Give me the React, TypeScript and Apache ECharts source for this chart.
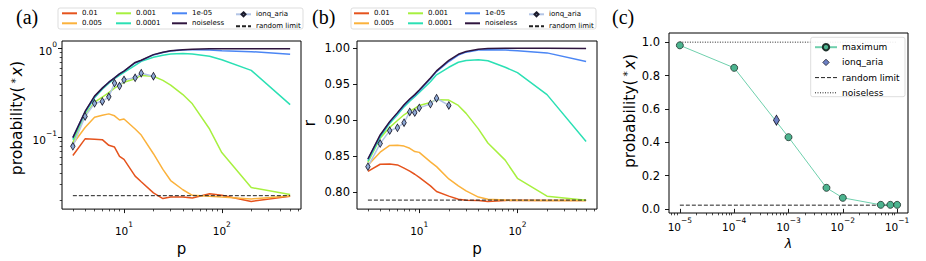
import React, { useEffect, useRef } from "react";
import * as echarts from "echarts";

const FONT = "DejaVu Sans";

// ---------- data ----------
const P_SIM = [3, 4, 5, 6, 7, 8, 9, 10, 13, 15, 20, 25, 30, 40, 50, 75, 100, 200, 500];
const P_IONQ = [3, 4, 5, 6, 7, 8, 9, 10, 13, 15, 20];
const NOISE_NAMES = ["0.01", "0.005", "0.001", "0.0001", "1e-05", "noiseless"];
const NOISE_COLORS = ["#e5531d", "#fbb23c", "#a7f03f", "#2be0b4", "#4b86f4", "#2f153f"];

// (a) probability of the optimal solution
const PROB_0_01 = [0.063, 0.097, 0.096, 0.095, 0.082, 0.0785, 0.0616, 0.057, 0.037, 0.032, 0.024, 0.0207, 0.0216, 0.0215, 0.021, 0.0235, 0.0225, 0.0192, 0.022];
const PROB_0_005 = [0.085, 0.13, 0.17, 0.179, 0.185, 0.176, 0.158, 0.162, 0.125, 0.107, 0.066, 0.044, 0.033, 0.026, 0.0225, 0.022, 0.0215, 0.0205, 0.0221];
const PROB_0_001 = [0.088, 0.18, 0.25, 0.286, 0.32, 0.36, 0.39, 0.42, 0.46, 0.5, 0.49, 0.44, 0.39, 0.305, 0.24, 0.125, 0.068, 0.0275, 0.023];
const PROB_0_0001 = [0.095, 0.19, 0.28, 0.35, 0.41, 0.46, 0.5, 0.54, 0.65, 0.72, 0.8, 0.845, 0.87, 0.88, 0.87, 0.82, 0.75, 0.57, 0.235];
const PROB_1E_05 = [0.1, 0.195, 0.29, 0.36, 0.42, 0.47, 0.52, 0.56, 0.69, 0.735, 0.85, 0.905, 0.94, 0.965, 0.975, 0.965, 0.95, 0.925, 0.865];
const PROB_NOISELESS = [0.1, 0.197, 0.293, 0.36, 0.42, 0.47, 0.52, 0.56, 0.7, 0.74, 0.857, 0.91, 0.946, 0.97, 0.985, 0.995, 0.998, 0.999, 0.999];
const PROB_IONQ = [0.08, 0.173, 0.243, 0.255, 0.288, 0.41, 0.38, 0.446, 0.47, 0.53, 0.49];
const PROB_RANDOM = 0.0223;

// (b) approximation ratio r
const R_0_01 = [0.8283, 0.8383, 0.8385, 0.8374, 0.833, 0.8287, 0.8244, 0.82, 0.8083, 0.8005, 0.794, 0.7896, 0.7883, 0.788, 0.7866, 0.788, 0.7884, 0.7878, 0.788];
const R_0_005 = [0.837, 0.855, 0.8644, 0.8648, 0.8635, 0.8605, 0.856, 0.8548, 0.8417, 0.835, 0.8179, 0.8083, 0.8013, 0.7927, 0.7896, 0.7885, 0.7882, 0.7878, 0.788];
const R_0_001 = [0.841, 0.8745, 0.8896, 0.899, 0.907, 0.912, 0.916, 0.92, 0.924, 0.928, 0.9274, 0.92, 0.909, 0.8874, 0.8678, 0.844, 0.8188, 0.794, 0.7883];
const R_0_0001 = [0.843, 0.876, 0.895, 0.907, 0.918, 0.926, 0.932, 0.938, 0.953, 0.9625, 0.973, 0.98, 0.9825, 0.9835, 0.982, 0.973, 0.9655, 0.935, 0.87];
const R_1E_05 = [0.845, 0.878, 0.897, 0.909, 0.92, 0.928, 0.934, 0.94, 0.957, 0.967, 0.981, 0.99, 0.994, 0.997, 0.9975, 0.997, 0.996, 0.993, 0.981];
const R_NOISELESS = [0.8456, 0.879, 0.8975, 0.91, 0.921, 0.929, 0.935, 0.9415, 0.958, 0.968, 0.9826, 0.991, 0.995, 0.998, 0.999, 0.9995, 0.9995, 0.9995, 0.999];
const R_IONQ = [0.835, 0.867, 0.885, 0.889, 0.896, 0.911, 0.91, 0.9166, 0.922, 0.93, 0.92];
const R_RANDOM = 0.7885;

// (c) maximum probability vs noise strength lambda
const LAMBDAS = [1e-5, 1e-4, 1e-3, 5e-3, 1e-2, 5e-2, 7.5e-2, 1e-1];
const MAXIMUM = [0.981, 0.846, 0.43, 0.126, 0.066, 0.024, 0.024, 0.024];
const IONQ_LAMBDA = [6e-4];
const IONQ_MAX = [0.532];
const C_RANDOM = 0.022;
const C_NOISELESS = 1.0;

// tick labels
const P_MAJOR = [10, 100];
const PROB_MAJOR = [0.1, 1];
const R_TICKS = [0.8, 0.85, 0.9, 0.95, 1.0];
const LAMBDA_MAJOR = [1e-5, 1e-4, 1e-3, 1e-2, 1e-1];
const C_Y_TICKS = [0, 0.2, 0.4, 0.6, 0.8, 1.0];

function minorLogTicks(lo: number, hi: number): number[] {
  const out: number[] = [];
  for (let e = Math.floor(Math.log10(lo)); e <= Math.ceil(Math.log10(hi)); e++) {
    for (let m = 2; m <= 9; m++) {
      const v = m * Math.pow(10, e);
      if (v > lo && v < hi) out.push(v);
    }
  }
  return out;
}

// ---------- helpers ----------
const powFmt = (v: number) => {
  const e = Math.round(Math.log10(v));
  return `{b|10}{s|${e < 0 ? "\u2212" : ""}${Math.abs(e)}}`;
};
const POW_RICH = {
  b: { fontSize: 10.5, lineHeight: 16, verticalAlign: "bottom", fontFamily: FONT, color: "#000" },
  s: { fontSize: 7.5, lineHeight: 5, verticalAlign: "top", fontFamily: FONT, color: "#000" },
};

function logAxisPair(kind: "x" | "y", gridIndex: number, min: number, max: number, major: number[], margin: number, extra: any) {
  const base = {
    type: "log",
    logBase: 10,
    gridIndex,
    min,
    max,
    position: kind === "x" ? "bottom" : "left",
    splitLine: { show: false },
    minorTick: { show: false },
    minorSplitLine: { show: false },
    axisLine: { show: false },
    axisPointer: { show: false },
  };
  const majorAxis = {
    ...base,
    ...extra,
    axisTick: { show: true, length: 4, lineStyle: { color: "#000", width: 0.9 }, customValues: major },
    axisLabel: { show: true, customValues: major, formatter: powFmt, margin, rich: POW_RICH, color: "#000", fontFamily: FONT },
  };
  const minorAxis = {
    ...base,
    axisTick: { show: true, length: 2.3, lineStyle: { color: "#000", width: 0.7 }, customValues: minorLogTicks(min, max) },
    axisLabel: { show: false },
  };
  return [majorAxis, minorAxis];
}

const zip = (xs: number[], ys: number[]) => xs.map((x, i) => [x, ys[i]]);

function panelSeries(values: number[][], ionq: number[], random: number, xi: number, yi: number) {
  const s: any[] = values.map((vals, k) => ({
    type: "line",
    name: NOISE_NAMES[k],
    xAxisIndex: xi,
    yAxisIndex: yi,
    data: zip(P_SIM, vals),
    symbol: "none",
    silent: true,
    lineStyle: { color: NOISE_COLORS[k], width: 1.5 },
    itemStyle: { color: NOISE_COLORS[k] },
    z: 2,
  }));
  s.push({
    type: "line",
    name: "ionq_aria",
    xAxisIndex: xi,
    yAxisIndex: yi,
    data: zip(P_IONQ, ionq),
    symbol: "diamond",
    symbolSize: [4.5, 7.5],
    silent: true,
    lineStyle: { color: "#b3c5e6", width: 1.5 },
    itemStyle: { color: "#8ea9d6", borderColor: "#1b1b2b", borderWidth: 0.8 },
    z: 3,
  });
  s.push({
    type: "line",
    name: "random limit",
    xAxisIndex: xi,
    yAxisIndex: yi,
    data: [[P_SIM[0], random], [P_SIM[P_SIM.length - 1], random]],
    symbol: "none",
    silent: true,
    lineStyle: { color: "#222", width: 1, type: [4, 2] },
    itemStyle: { color: "#222" },
    z: 4,
  });
  return s;
}

const legendTop = (left: number, names: any[], small = false) => ({
  orient: "vertical",
  left,
  top: small ? 10.8 : 9.8,
  padding: 0,
  itemWidth: 15,
  itemHeight: small ? 5 : 7,
  itemGap: small ? 5 : 3,
  selectedMode: false,
  itemStyle: { opacity: 0 },
  textStyle: { fontSize: 7, fontFamily: FONT, color: "#000" },
  data: names,
});

const ionqLegendItem = { name: "ionq_aria", itemStyle: { opacity: 1 } };

function buildOption() {
  const P_MIN = 2.3227, P_MAX = 645.8;
  const nameStyle = { fontSize: 15, fontFamily: FONT, color: "#000" };
  const [ax0, ax1] = logAxisPair("x", 0, P_MIN, P_MAX, P_MAJOR, 11, {
    name: "p", nameLocation: "middle", nameGap: 23, nameTextStyle: nameStyle,
  });
  const [bx0, bx1] = logAxisPair("x", 1, P_MIN, P_MAX, P_MAJOR, 11, {
    name: "p", nameLocation: "middle", nameGap: 23, nameTextStyle: nameStyle,
  });
  const [cx0, cx1] = logAxisPair("x", 2, 6.31e-6, 0.1585, LAMBDA_MAJOR, 3, {
    name: "λ", nameLocation: "middle", nameGap: 16,
    nameTextStyle: { fontSize: 12.5, fontFamily: FONT, fontStyle: "italic", color: "#000" },
  });
  const probName = (shift: number) => ({
    name: "probability({s|*}{i|x})",
    nameLocation: "middle",
    nameTextStyle: {
      fontSize: 15.5, fontFamily: FONT, color: "#000",
      padding: [0, 0, 0, shift * 2],
      rich: {
        s: { fontSize: 10.5, fontFamily: FONT, color: "#000", verticalAlign: "top", lineHeight: 9, padding: [0, 2, 0, 3] },
        i: { fontSize: 15.5, fontFamily: FONT, fontStyle: "italic", color: "#000" },
      },
    },
  });
  const [ay0, ay1] = logAxisPair("y", 0, 0.01576, 1.2187, PROB_MAJOR, 5, { ...probName(7), nameGap: 37 });
  const linTick = { show: true, length: 4, lineStyle: { color: "#000", width: 0.9 } };
  const by = {
    type: "value", gridIndex: 1, min: 0.776, max: 1.0095, position: "left",
    splitLine: { show: false }, axisLine: { show: false },
    axisTick: { ...linTick, customValues: R_TICKS },
    axisLabel: { customValues: R_TICKS, formatter: (v: number) => v.toFixed(2), fontSize: 11.5, fontFamily: FONT, color: "#000", margin: 7 },
    name: "r", nameLocation: "middle", nameGap: 40,
    nameTextStyle: { fontSize: 15, fontFamily: FONT, color: "#000", padding: [0, 0, 0, 4] },
  };
  const cy = {
    type: "value", gridIndex: 2, min: -0.025, max: 1.055, position: "left",
    splitLine: { show: false }, axisLine: { show: false },
    axisTick: { ...linTick, customValues: C_Y_TICKS },
    axisLabel: { customValues: C_Y_TICKS, formatter: (v: number) => v.toFixed(1), fontSize: 11.5, fontFamily: FONT, color: "#000", margin: 9 },
    ...probName(12),
    nameGap: 27,
  };

  const series: any[] = [
    ...panelSeries([PROB_0_01, PROB_0_005, PROB_0_001, PROB_0_0001, PROB_1E_05, PROB_NOISELESS], PROB_IONQ, PROB_RANDOM, 0, 0),
    ...panelSeries([R_0_01, R_0_005, R_0_001, R_0_0001, R_1E_05, R_NOISELESS], R_IONQ, R_RANDOM, 2, 2),
    {
      type: "line", name: "maximum", xAxisIndex: 4, yAxisIndex: 3,
      data: zip(LAMBDAS, MAXIMUM), symbol: "circle", symbolSize: 7, silent: true,
      lineStyle: { color: "#6fd0ad", width: 1 },
      itemStyle: { color: "#4cb48f", borderColor: "#1d302a", borderWidth: 0.8 }, z: 3,
    },
    {
      type: "line", name: "ionq_aria", xAxisIndex: 4, yAxisIndex: 3,
      data: zip(IONQ_LAMBDA, IONQ_MAX), symbol: "diamond", symbolSize: [6, 10], silent: true,
      lineStyle: { opacity: 0 },
      itemStyle: { color: "#6c80c4", borderColor: "#1b1b2b", borderWidth: 0.8 }, z: 4,
    },
    {
      type: "line", name: "random limit", xAxisIndex: 4, yAxisIndex: 3,
      data: [[LAMBDAS[0], C_RANDOM], [LAMBDAS[LAMBDAS.length - 1], C_RANDOM]],
      symbol: "none", silent: true, lineStyle: { color: "#222", width: 1, type: [4, 2] }, z: 2,
    },
    {
      type: "line", name: "noiseless", xAxisIndex: 4, yAxisIndex: 3,
      data: [[LAMBDAS[0], C_NOISELESS], [LAMBDAS[LAMBDAS.length - 1], C_NOISELESS]],
      symbol: "none", silent: true, lineStyle: { color: "#222", width: 1, type: [1, 1.5] }, z: 2,
    },
  ];

  const legends = [
    legendTop(61, ["0.01", "0.005"]),
    legendTop(115, ["0.001", "0.0001"]),
    legendTop(171, ["1e-05", "noiseless"]),
    legendTop(235, [ionqLegendItem, "random limit"], true),
    legendTop(353, ["0.01", "0.005"]),
    legendTop(407, ["0.001", "0.0001"]),
    legendTop(464, ["1e-05", "noiseless"]),
    legendTop(528, [ionqLegendItem, "random limit"], true),
    {
      orient: "vertical", left: 814, top: 42.7, padding: 0, itemWidth: 22, itemHeight: 8, itemGap: 6.2,
      selectedMode: false, z: 5,
      textStyle: { fontSize: 9, fontFamily: FONT, color: "#000" },
      data: [
        { name: "maximum" },
        { name: "ionq_aria", itemStyle: { color: "#6c80c4", borderColor: "#1b1b2b", borderWidth: 0.8, opacity: 1 }, lineStyle: { opacity: 0 } },
        { name: "random limit", itemStyle: { opacity: 0 }, lineStyle: { color: "#222", width: 1, type: [4, 2] } },
        { name: "noiseless", itemStyle: { opacity: 0 }, lineStyle: { color: "#222", width: 1, type: [1, 1.5] } },
      ],
    },
  ];

  const gridStyle = { show: true, borderColor: "#000", borderWidth: 1, backgroundColor: "transparent", containLabel: false };
  const panelLabel = (left: number, text: string) => ({
    type: "text", left, top: 7,
    style: { text, fontFamily: "Liberation Serif", fontSize: 20, fill: "#000" },
  });

  return {
    animation: false,
    backgroundColor: "#fff",
    textStyle: { fontFamily: FONT },
    grid: [
      { ...gridStyle, left: 62, top: 41, width: 239, height: 179 },
      { ...gridStyle, left: 357, top: 41, width: 240, height: 179 },
      { ...gridStyle, left: 669, top: 33, width: 239, height: 180 },
    ],
    xAxis: [ax0, ax1, bx0, bx1, cx0, cx1],
    yAxis: [ay0, ay1, by, cy],
    legend: legends,
    graphic: [
      { type: "rect", shape: { x: 58, y: 8, width: 245, height: 21, r: 2 }, style: { fill: "#fff", stroke: "#d4d4d4", lineWidth: 0.8 }, z: 1 },
      { type: "rect", shape: { x: 351, y: 8, width: 245, height: 21, r: 2 }, style: { fill: "#fff", stroke: "#d4d4d4", lineWidth: 0.8 }, z: 1 },
      { type: "rect", shape: { x: 810.7, y: 37.3, width: 94.3, height: 59.4, r: 2 }, style: { fill: "rgba(255,255,255,0.9)", stroke: "#d4d4d4", lineWidth: 0.8 }, z: 4 },
      panelLabel(16, "(a)"),
      panelLabel(312, "(b)"),
      panelLabel(612, "(c)"),
    ],
    series,
  };
}

export default function App() {
  const ref = useRef<HTMLDivElement>(null);
  useEffect(() => {
    const chart = echarts.init(ref.current!, null, { renderer: "svg" });
    chart.setOption(buildOption() as any);
    return () => chart.dispose();
  }, []);
  return (
    <div
      ref={ref}
      style={{ position: "fixed", left: 0, top: 0, width: 926, height: 261, background: "#fff" }}
    />
  );
}
